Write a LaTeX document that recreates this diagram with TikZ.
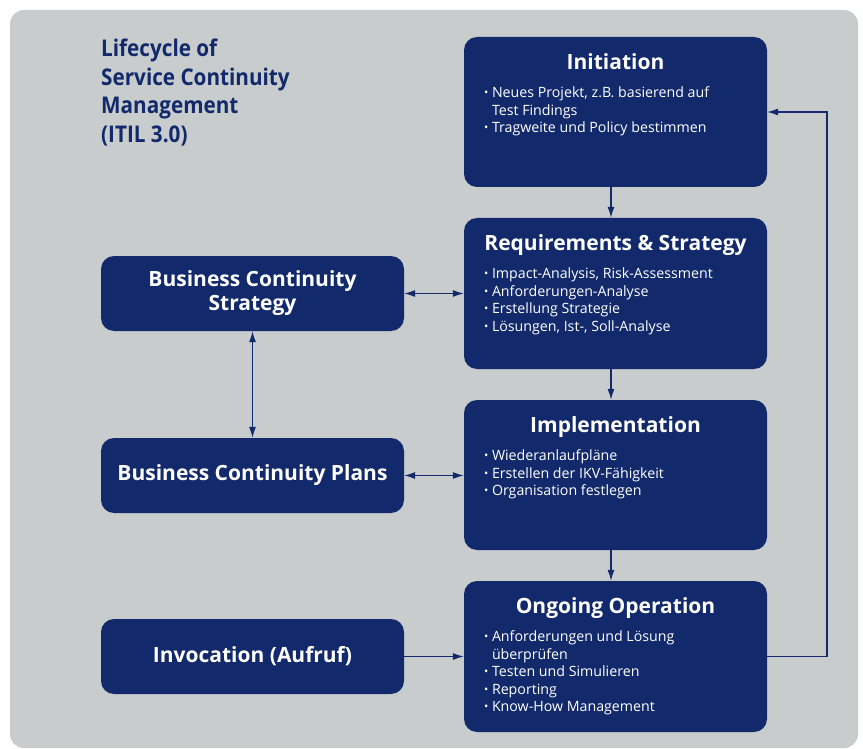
\documentclass[tikz,border=0pt]{standalone}
\usepackage{fontspec}
\setmainfont{Open Sans}
\newfontfamily\condfont[FakeStretch=0.9]{Open Sans}
\usetikzlibrary{arrows.meta,calc}
\definecolor{itilblue}{HTML}{12296B}
\definecolor{itilgray}{HTML}{C8CCCD}
\tikzset{
  x=1pt,y=-1pt,
  box/.style={draw=none,fill=itilblue,rounded corners=13pt,inner sep=0pt},
  boxtitle/.style={text=white,font=\bfseries\fontsize{21}{24}\selectfont,anchor=base,inner sep=0pt},
  boxtext/.style={text=white,font=\fontsize{14.2}{17.4}\selectfont,anchor=base west,inner sep=0pt},
  conn/.style={draw=itilblue,line width=1.1pt},
  tip/.style={-{Latex[length=11pt,width=7pt]}},
  tips/.style={{Latex[length=11pt,width=7pt]}-{Latex[length=11pt,width=7pt]}},
}
\newcommand{\bul}{\makebox[8pt][l]{\raisebox{1pt}{\scalebox{0.8}{•}}}}
\newcommand{\cont}{\hspace*{8pt}}
\begin{document}
\begin{tikzpicture}
\useasboundingbox (0,0) rectangle (863,749);
\fill[white] (0,0) rectangle (863,749);
\fill[itilgray,rounded corners=14pt] (10,10) rectangle (858,748);

% title
\node[anchor=base west,text=itilblue,inner sep=0pt,
      font=\condfont\bfseries\fontsize{23}{28.7}\selectfont] (title) at (101,56.5)
  {\parbox[t]{250pt}{\raggedright Lifecycle of\\Service Continuity\\Management\\(ITIL 3.0)}};

% right column boxes
\node[box,minimum width=303pt,minimum height=150pt] (init) at (615.5,112) {};
\node[box,minimum width=303pt,minimum height=151pt] (req) at (615.5,293.5) {};
\node[box,minimum width=303pt,minimum height=150pt] (impl) at (615.5,475) {};
\node[box,minimum width=303pt,minimum height=151pt] (oper) at (615.5,656.5) {};

% left boxes
\node[box,minimum width=303pt,minimum height=75pt] (bcs) at (252.5,293.5) {};
\node[box,minimum width=303pt,minimum height=75pt] (bcp) at (252.5,475.5) {};
\node[box,minimum width=303pt,minimum height=75pt] (inv) at (252.5,656.5) {};

% titles of right boxes
\node[boxtitle] (initT) at ($(init.north)+(0,33)$) {Initiation};
\node[boxtitle] (reqT) at ($(req.north)+(0,33)$) {Requirements \& Strategy};
\node[boxtitle] (implT) at ($(impl.north)+(0,33)$) {Implementation};
\node[boxtitle] (operT) at ($(oper.north)+(0,33)$) {Ongoing Operation};

% bullet texts
\node[boxtext] (initB) at ($(init.north west)+(20,61)$)
  {\parbox[t]{280pt}{\bul Neues Projekt, z.B. basierend auf\\\cont Test Findings\\\bul Tragweite und Policy bestimmen}};
\node[boxtext] (reqB) at ($(req.north west)+(20,61)$)
  {\parbox[t]{280pt}{\bul Impact-Analysis, Risk-Assessment\\\bul Anforderungen-Analyse\\\bul Erstellung Strategie\\\bul Lösungen, Ist-, Soll-Analyse}};
\node[boxtext] (implB) at ($(impl.north west)+(20,61)$)
  {\parbox[t]{280pt}{\bul Wiederanlaufpläne\\\bul Erstellen der IKV-Fähigkeit\\\bul Organisation festlegen}};
\node[boxtext] (operB) at ($(oper.north west)+(20,61)$)
  {\parbox[t]{280pt}{\bul Anforderungen und Lösung\\\cont überprüfen\\\bul Testen und Simulieren\\\bul Reporting\\\bul Know-How Management}};

% left box labels
\node[text=white,font=\bfseries\fontsize{21}{24}\selectfont,align=center,inner sep=0pt] (bcsT) at (bcs.center) {Business Continuity\\Strategy};
\node[text=white,font=\bfseries\fontsize{21}{24}\selectfont,inner sep=0pt] (bcpT) at (bcp.center) {Business Continuity Plans};
\node[text=white,font=\bfseries\fontsize{21}{24}\selectfont,inner sep=0pt] (invT) at (inv.center) {Invocation (Aufruf)};

% connectors
\coordinate (spine) at (611,0);
\coordinate (ret) at (827,0);
\draw[conn,tip] (init.south -| spine) -- (req.north -| spine);
\draw[conn,tip] (req.south -| spine) -- (impl.north -| spine);
\draw[conn,tip] (impl.south -| spine) -- (oper.north -| spine);
\draw[conn,tip] (oper.east) -- (oper.east -| ret) -- (init.east -| ret) -- (init.east);
\draw[conn,tips] (bcs.east) -- (req.west |- bcs.east);
\draw[conn,tips] (bcp.east) -- (impl.west |- bcp.east);
\draw[conn,tips] (bcs.south) -- (bcp.north);
\draw[conn,tip] (inv.east) -- (oper.west |- inv.east);
\end{tikzpicture}
\end{document}
